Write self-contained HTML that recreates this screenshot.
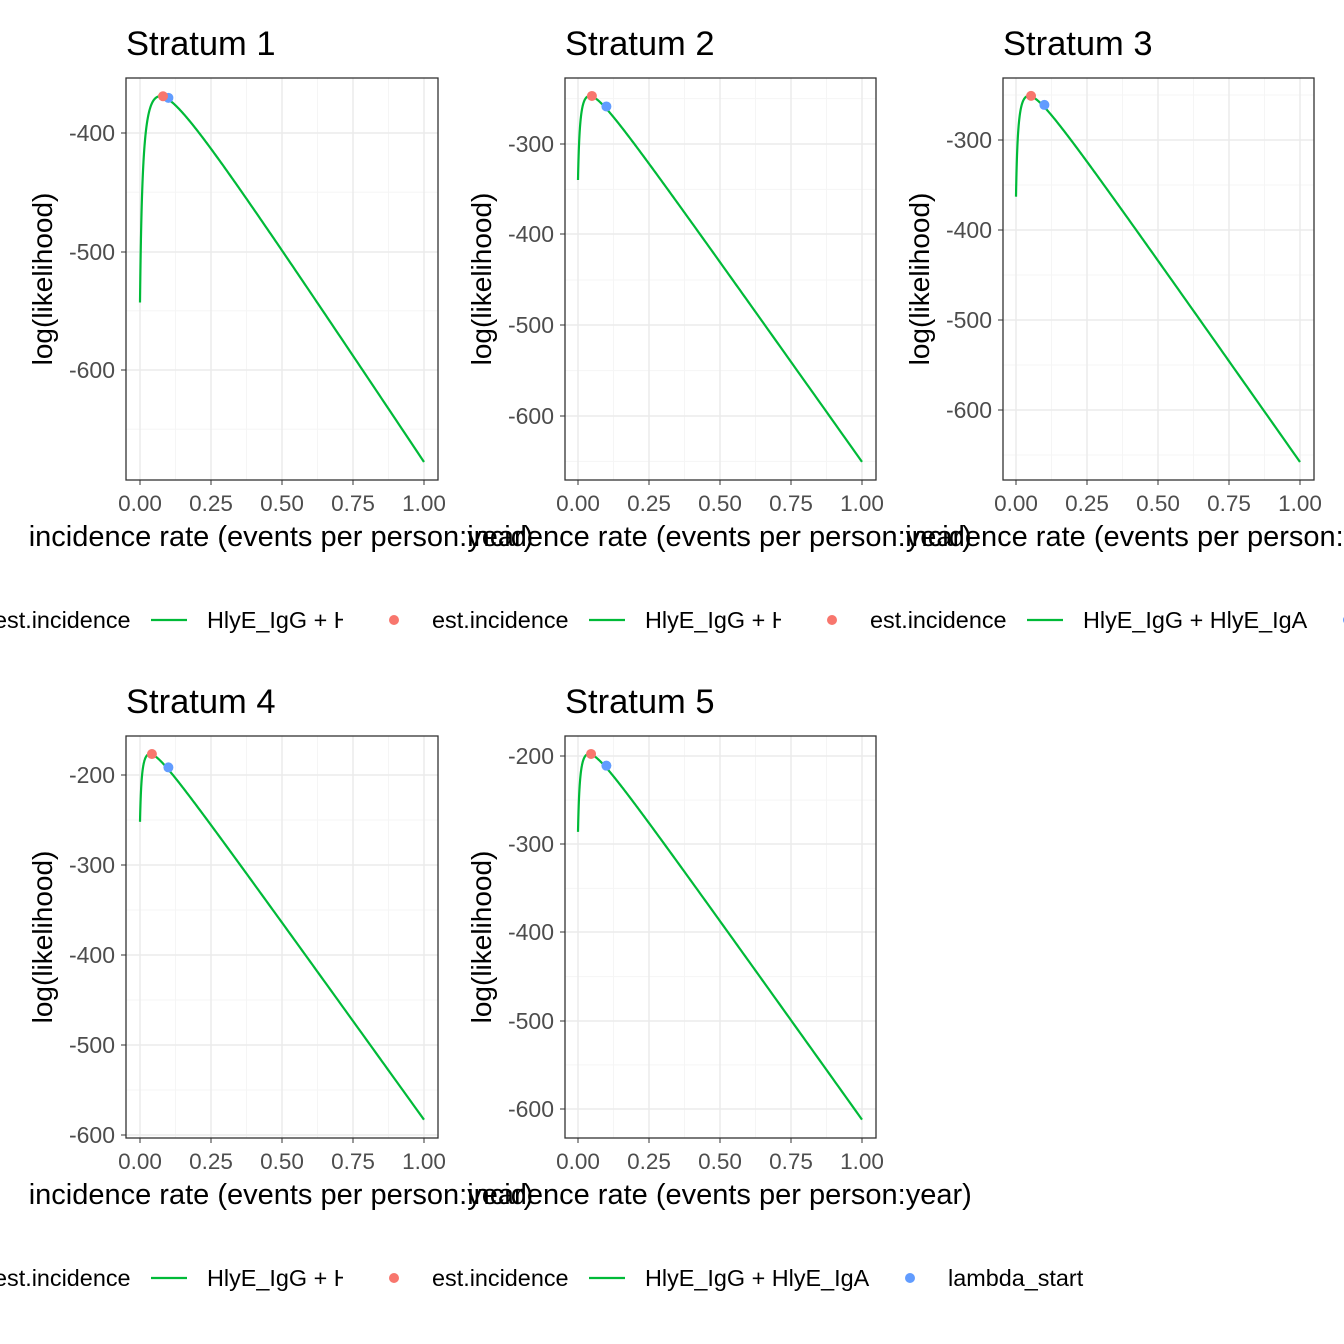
<!DOCTYPE html>
<html><head><meta charset="utf-8"><style>
html,body{margin:0;padding:0;background:#fff;}
svg{display:block;font-family:"Liberation Sans",sans-serif;}
</style></head><body>
<svg id="s" width="1344" height="1344" xmlns="http://www.w3.org/2000/svg">
<defs>
<clipPath id="c1"><rect x="0" y="590" width="343" height="60"/></clipPath>
<clipPath id="c2"><rect x="343" y="590" width="438" height="60"/></clipPath>
<clipPath id="c3"><rect x="781" y="590" width="563" height="60"/></clipPath>
<clipPath id="c4"><rect x="0" y="1248" width="343" height="60"/></clipPath>
<clipPath id="c5"><rect x="343" y="1248" width="1001" height="60"/></clipPath>
</defs>
</svg>
<script>
var s=document.getElementById('s'),out='';
var P=[
 {L:126,R:438,T:78,B:480,x0:140,t:[-400,-500,-600],ty:[133,252,370],p:0.081,vp:-369,v1:-677.6,v0:-543,title:"Stratum 1",clip:"c1",ly:620,off:-438},
 {L:565,R:876,T:78,B:480,x0:578,t:[-300,-400,-500,-600],ty:[144,234,325,416],p:0.049,vp:-247,v1:-650.6,v0:-339.7,title:"Stratum 2",clip:"c2",ly:620,off:0},
 {L:1003,R:1314,T:78,B:480,x0:1016,t:[-300,-400,-500,-600],ty:[140,230,320,410],p:0.053,vp:-251,v1:-657.8,v0:-363,title:"Stratum 3",clip:"c3",ly:620,off:438},
 {L:126,R:438,T:736,B:1138,x0:140,t:[-200,-300,-400,-500,-600],ty:[775,865,955,1045,1135],p:0.042,vp:-176.7,v1:-583,v0:-252,title:"Stratum 4",clip:"c4",ly:1278,off:-438},
 {L:565,R:876,T:736,B:1138,x0:578,t:[-200,-300,-400,-500,-600],ty:[756,844,932,1021,1109],p:0.046,vp:-197.7,v1:-612,v0:-286,title:"Stratum 5",clip:"c5",ly:1278,off:0}
];
P.forEach(function(q){
 var sc=(q.ty[q.ty.length-1]-q.ty[0])/(q.t[0]-q.t[q.t.length-1]);
 function Y(v){return q.ty[0]+(q.t[0]-v)*sc;}
 function X(l){return q.x0+l*284;}
 out+='<rect x="'+q.L+'" y="'+q.T+'" width="'+(q.R-q.L)+'" height="'+(q.B-q.T)+'" fill="#fff"/>';
 for(var l=0.125;l<1.1;l+=0.25){out+='<line x1="'+X(l)+'" x2="'+X(l)+'" y1="'+q.T+'" y2="'+q.B+'" stroke="#f5f5f5" stroke-width="1"/>';}
 for(var v=q.t[0]+50;v>q.t[q.t.length-1]-150;v-=100){var y=Y(v);if(y>q.T&&y<q.B)out+='<line x1="'+q.L+'" x2="'+q.R+'" y1="'+y+'" y2="'+y+'" stroke="#f5f5f5" stroke-width="1"/>';}
 for(var i=0;i<5;i++){var x=X(i*0.25);out+='<line x1="'+x+'" x2="'+x+'" y1="'+q.T+'" y2="'+q.B+'" stroke="#ebebeb" stroke-width="1.5"/>';
  out+='<line x1="'+x+'" x2="'+x+'" y1="'+q.B+'" y2="'+(q.B+5)+'" stroke="#333"/>';
  out+='<text x="'+x+'" y="'+(q.B+31)+'" font-size="22.5" fill="#4d4d4d" text-anchor="middle">'+(i*0.25).toFixed(2)+'</text>';}
 q.t.forEach(function(v,k){var y=q.ty[k];out+='<line x1="'+q.L+'" x2="'+q.R+'" y1="'+y+'" y2="'+y+'" stroke="#ebebeb" stroke-width="1.5"/>';
  out+='<line x1="'+(q.L-5)+'" x2="'+q.L+'" y1="'+y+'" y2="'+y+'" stroke="#333"/>';
  out+='<text x="'+(q.L-11)+'" y="'+(y+8)+'" font-size="23" fill="#4d4d4d" text-anchor="end">'+v+'</text>';});
 var p=q.p,A=(q.vp-q.v1)*p*p/((1-p)*(1-p)),B=A/(p*p),c=q.vp+B*p+A/p;
 function f(l){return c-B*l-A/l;}
 var lo=1e-9,hi=p;for(var k=0;k<80;k++){var m=(lo+hi)/2;if(f(m)<q.v0)lo=m;else hi=m;}
 var s0=lo,pts=[];
 function XC(l){return q.x0+(l-s0)/(1-s0)*284;}
 for(var k=0;k<=400;k++){var l=s0*Math.pow(1/s0,k/400);pts.push(XC(l).toFixed(2)+','+Y(f(l)).toFixed(2));}
 out+='<polyline points="'+pts.join(' ')+'" fill="none" stroke="#00BA38" stroke-width="2.2"/>';
 out+='<circle cx="'+X(0.1)+'" cy="'+Y(f(0.1))+'" r="5" fill="#619CFF"/>';
 out+='<circle cx="'+X(p)+'" cy="'+Y(q.vp)+'" r="5" fill="#F8766D"/>';
 out+='<rect x="'+q.L+'" y="'+q.T+'" width="'+(q.R-q.L)+'" height="'+(q.B-q.T)+'" fill="none" stroke="#333" stroke-width="1.3"/>';
 out+='<text x="'+q.L+'" y="'+(q.T-23)+'" font-size="34.5">'+q.title+'</text>';
 var cy=(q.T+q.B)/2;
 out+='<text transform="translate('+(q.L-74)+','+cy+') rotate(-90)" font-size="28" text-anchor="middle">log(likelihood)</text>';
 out+='<text x="'+((q.L+q.R)/2-1)+'" y="'+(q.B+66)+'" font-size="29" text-anchor="middle">incidence rate (events per person:year)</text>';
 var o=q.off,ly=q.ly;
 out+='<g clip-path="url(#'+q.clip+')">'+
  '<circle cx="'+(394+o)+'" cy="'+ly+'" r="5" fill="#F8766D"/>'+
  '<text x="'+(432+o)+'" y="'+(ly+8)+'" font-size="23.4">est.incidence</text>'+
  '<line x1="'+(589+o)+'" x2="'+(625+o)+'" y1="'+ly+'" y2="'+ly+'" stroke="#00BA38" stroke-width="2.2"/>'+
  '<text x="'+(645+o)+'" y="'+(ly+8)+'" font-size="23.4">HlyE_IgG + HlyE_IgA</text>'+
  '<circle cx="'+(910+o)+'" cy="'+ly+'" r="5" fill="#619CFF"/>'+
  '<text x="'+(948+o)+'" y="'+(ly+8)+'" font-size="23.4">lambda_start</text></g>';
});
s.insertAdjacentHTML('beforeend',out);
</script>
</body></html>
